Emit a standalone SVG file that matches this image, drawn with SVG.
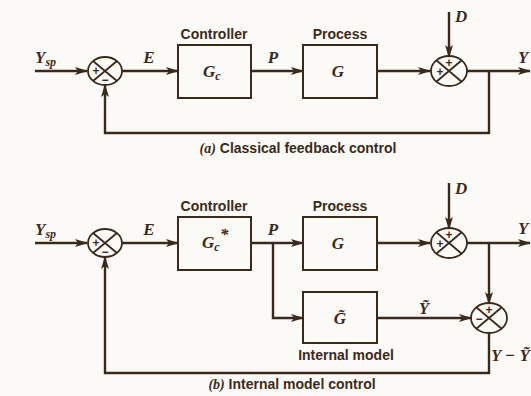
<svg xmlns="http://www.w3.org/2000/svg" width="531" height="396" viewBox="0 0 531 396">
<defs>
<marker id="arr" viewBox="0 0 13 8" refX="12" refY="4" markerWidth="13" markerHeight="8" markerUnits="userSpaceOnUse" orient="auto">
<path d="M0,0 L13,4 L0,8 L3,4 z" fill="#3b2a1c"/>
</marker>
<style>
.ln{fill:none;stroke:#3b2a1c;stroke-width:2.4}
.bx{fill:none;stroke:#3b2a1c;stroke-width:2}
.cr{fill:none;stroke:#3b2a1c;stroke-width:1.8}
.lab{font-family:"Liberation Sans",Arial,sans-serif;font-size:14px;font-weight:bold;fill:#3b2a1c}
.cap{font-family:"Liberation Sans",Arial,sans-serif;font-size:14px;font-weight:bold;fill:#3b2a1c}
.m{font-family:"Liberation Serif","Times New Roman",serif;font-style:italic;font-weight:bold;font-size:17px;fill:#3b2a1c}
.s{font-family:"Liberation Sans",Arial,sans-serif;font-weight:bold;font-size:12px;fill:#3b2a1c}
</style>
</defs>
<rect width="531" height="396" fill="#fbfaf6"/>

<g id="connectors">
<path class="ln" d="M35,71 H87" marker-end="url(#arr)"/>
<path class="ln" d="M122,71 H178" marker-end="url(#arr)"/>
<path class="ln" d="M251,71 H303" marker-end="url(#arr)"/>
<path class="ln" d="M377,71 H430" marker-end="url(#arr)"/>
<path class="ln" d="M449,12 V57" marker-end="url(#arr)"/>
<path class="ln" d="M467,71 H530" marker-end="url(#arr)"/>
<path class="ln" d="M489,71 V133 H105 V85" marker-end="url(#arr)"/>
<path class="ln" d="M35,243 H87" marker-end="url(#arr)"/>
<path class="ln" d="M122,243 H178" marker-end="url(#arr)"/>
<path class="ln" d="M251,243 H303" marker-end="url(#arr)"/>
<path class="ln" d="M273,243 V318 H303" marker-end="url(#arr)"/>
<path class="ln" d="M377,243 H430" marker-end="url(#arr)"/>
<path class="ln" d="M449,183 V229" marker-end="url(#arr)"/>
<path class="ln" d="M467,243 H530" marker-end="url(#arr)"/>
<path class="ln" d="M489,243 V304" marker-end="url(#arr)"/>
<path class="ln" d="M377,318 H471" marker-end="url(#arr)"/>
<path class="ln" d="M489,333 V373 H105 V257" marker-end="url(#arr)"/>
</g>

<g id="sum1a">
<ellipse class="cr" cx="105" cy="71" rx="17" ry="14"/>
<path class="cr" d="M93,61 L117,81 M117,61 L93,81"/>
<text class="s" x="96" y="75" text-anchor="middle">+</text>
<text class="s" x="105" y="84" text-anchor="middle">−</text>
</g>
<g id="controllerA">
<rect class="bx" x="178" y="45" width="73" height="53"/>
<text class="lab" x="214" y="39" text-anchor="middle">Controller</text>
<text class="m" x="203" y="77">G<tspan font-size="12" dy="3">c</tspan></text>
</g>
<g id="processA">
<rect class="bx" x="303" y="45" width="74" height="53"/>
<text class="lab" x="340" y="39" text-anchor="middle">Process</text>
<text class="m" x="338" y="77" text-anchor="middle">G</text>
</g>
<g id="sum2a">
<ellipse class="cr" cx="449" cy="71" rx="18" ry="15"/>
<path class="cr" d="M436,60 L462,82 M462,60 L436,82"/>
<text class="s" x="449" y="67" text-anchor="middle">+</text>
<text class="s" x="440" y="76" text-anchor="middle">+</text>
</g>
<g id="labelsA">
<text class="m" x="35" y="63">Y<tspan font-size="12" dy="3">sp</tspan></text>
<text class="m" x="149" y="63" text-anchor="middle">E</text>
<text class="m" x="273" y="63" text-anchor="middle">P</text>
<text class="m" x="455" y="22">D</text>
<text class="m" x="518" y="63">Y</text>
<text class="cap" x="298" y="153" text-anchor="middle"><tspan font-family="Liberation Serif" font-style="italic">(a)</tspan> Classical feedback control</text>
</g>

<g id="sum1b">
<ellipse class="cr" cx="105" cy="243" rx="17" ry="14"/>
<path class="cr" d="M93,233 L117,253 M117,233 L93,253"/>
<text class="s" x="96" y="247" text-anchor="middle">+</text>
<text class="s" x="105" y="256" text-anchor="middle">−</text>
</g>
<g id="controllerB">
<rect class="bx" x="178" y="217" width="73" height="53"/>
<text class="lab" x="214" y="211" text-anchor="middle">Controller</text>
<text class="m" x="202" y="248">G<tspan font-size="12" dy="3">c</tspan></text>
<text class="m" x="220" y="240" font-size="13">*</text>
</g>
<g id="processB">
<rect class="bx" x="303" y="217" width="74" height="53"/>
<text class="lab" x="340" y="211" text-anchor="middle">Process</text>
<text class="m" x="338" y="249" text-anchor="middle">G</text>
</g>
<g id="model">
<rect class="bx" x="303" y="292" width="74" height="51"/>
<text class="m" x="340" y="324" text-anchor="middle">G̃</text>
<text class="lab" x="346" y="360" text-anchor="middle">Internal model</text>
</g>
<g id="sum2b">
<ellipse class="cr" cx="449" cy="243" rx="18" ry="15"/>
<path class="cr" d="M436,232 L462,254 M462,232 L436,254"/>
<text class="s" x="449" y="239" text-anchor="middle">+</text>
<text class="s" x="440" y="248" text-anchor="middle">+</text>
</g>
<g id="sum3">
<ellipse class="cr" cx="489" cy="318" rx="18" ry="15"/>
<path class="cr" d="M476,307 L502,329 M502,307 L476,329"/>
<text class="s" x="489" y="314" text-anchor="middle">+</text>
<text class="s" x="479" y="323" text-anchor="middle">−</text>
</g>
<g id="labelsB">
<text class="m" x="35" y="235">Y<tspan font-size="12" dy="3">sp</tspan></text>
<text class="m" x="149" y="235" text-anchor="middle">E</text>
<text class="m" x="273" y="235" text-anchor="middle">P</text>
<text class="m" x="455" y="194">D</text>
<text class="m" x="518" y="234">Y</text>
<text class="m" x="424" y="314" text-anchor="middle">Ỹ</text>
<text class="m" x="491" y="361">Y − Ỹ</text>
<text class="cap" x="292" y="389" text-anchor="middle"><tspan font-family="Liberation Serif" font-style="italic">(b)</tspan> Internal model control</text>
</g>
</svg>
